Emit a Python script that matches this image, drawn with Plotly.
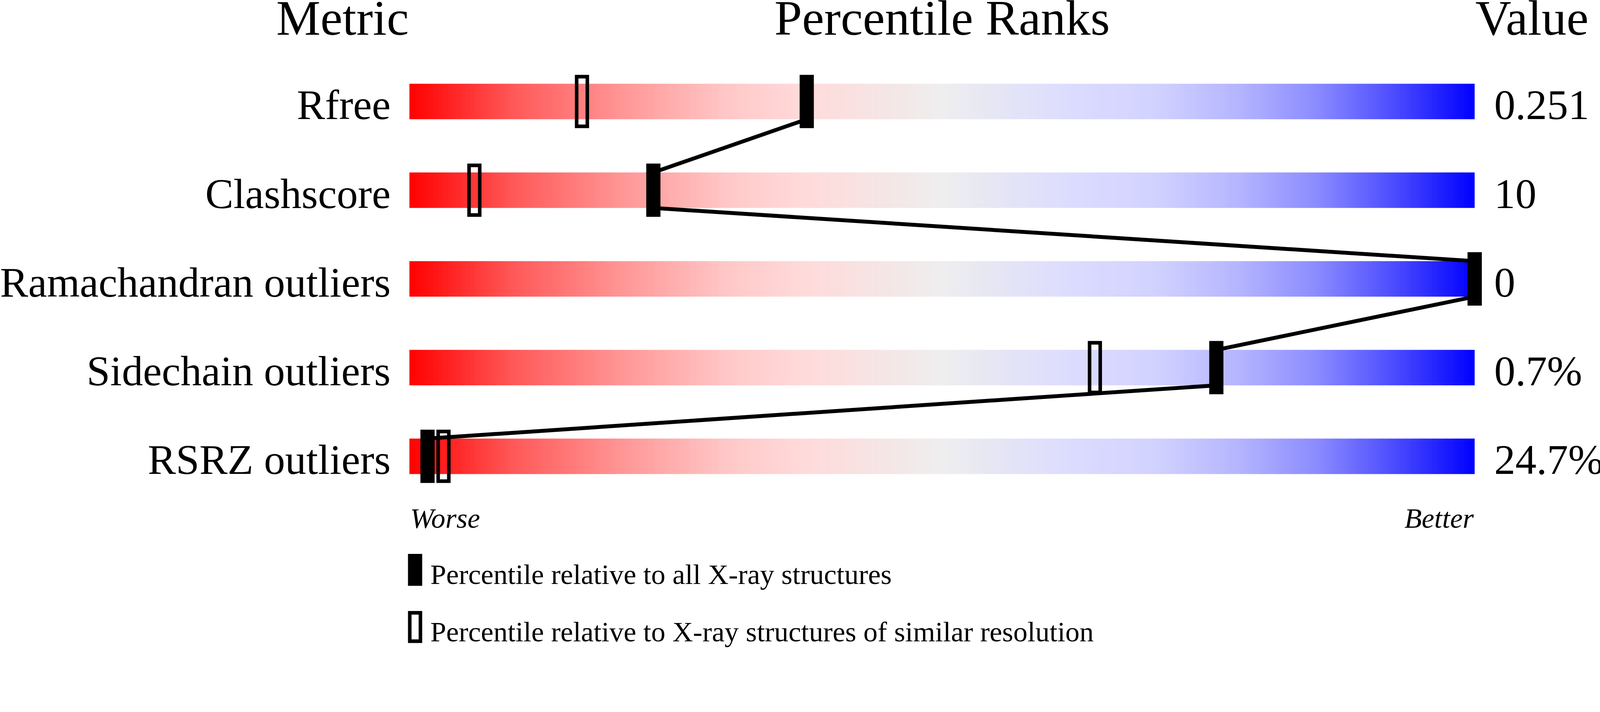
import plotly.graph_objects as go

# ---- data ----
metrics = ["Rfree", "Clashscore", "Ramachandran outliers", "Sidechain outliers", "RSRZ outliers"]
values = ["0.251", "10", "0", "0.7%", "24.7%"]
pct_all = [37.3, 22.9, 100.0, 75.75, 1.7]          # percentile vs all X-ray structures
pct_similar = [16.2, 6.1, 100.0, 64.35, 3.2]       # percentile vs similar resolution
headers = ["Metric", "Percentile Ranks", "Value"]
scale_labels = ["Worse", "Better"]
legend_labels = ["Percentile relative to all X-ray structures",
                 "Percentile relative to X-ray structures of similar resolution"]

# ---- geometry / style ----
W, H = 4506, 1824
X0, X1 = 1153, 4153          # pixel extent of the percentile bar (0..100)
PAD = 60                     # extra plot area so end markers are not clipped
TOP, BOT = 161, 1411         # pixel extent of the y domain (5 rows x 250 px)
FONT = "Liberation Serif"
BAR_HALF = 0.2

colorscale = [
    [0.00, "rgb(255,0,0)"],
    [0.10, "rgb(255,90,90)"],
    [0.20, "rgb(255,150,150)"],
    [0.30, "rgb(255,200,200)"],
    [0.37, "rgb(255,218,218)"],
    [0.45, "rgb(245,230,230)"],
    [0.50, "rgb(238,238,238)"],
    [0.55, "rgb(230,230,245)"],
    [0.62, "rgb(220,220,255)"],
    [0.70, "rgb(210,210,255)"],
    [0.78, "rgb(180,180,255)"],
    [0.85, "rgb(140,140,255)"],
    [0.92, "rgb(80,80,255)"],
    [1.00, "rgb(0,0,255)"],
]

steps = 300
x_edges = [100.0 * k / steps for k in range(steps + 1)]
z_row = [100.0 * (k + 0.5) / steps for k in range(steps)]

fig = go.Figure()

# gradient bars
for i, m in enumerate(metrics):
    fig.add_trace(go.Heatmap(
        x=x_edges, y=[i - BAR_HALF, i + BAR_HALF], z=[z_row],
        colorscale=colorscale, zmin=0, zmax=100, showscale=False,
        hoverinfo="skip",
    ))

# connecting line between 'all' markers (bottom of bar i -> top of bar i+1)
lx, ly = [], []
for i in range(len(metrics) - 1):
    lx += [pct_all[i], pct_all[i + 1], None]
    ly += [i + BAR_HALF, i + 1 - BAR_HALF, None]
fig.add_trace(go.Scatter(x=lx, y=ly, mode="lines",
                         line=dict(color="black", width=11),
                         hoverinfo="skip", showlegend=False))

shapes = []
# open markers (similar resolution) first
for i, p in enumerate(pct_similar):
    shapes.append(dict(type="rect", xref="x", yref="y",
                       xsizemode="pixel", xanchor=p, x0=-15, x1=15,
                       ysizemode="pixel", yanchor=i, y0=-70, y1=70,
                       line=dict(color="black", width=10),
                       fillcolor="rgba(0,0,0,0)", layer="above"))
# filled markers (all structures)
for i, p in enumerate(pct_all):
    shapes.append(dict(type="rect", xref="x", yref="y",
                       xsizemode="pixel", xanchor=p, x0=-20, x1=20,
                       ysizemode="pixel", yanchor=i, y0=-75, y1=75,
                       line=dict(width=0), fillcolor="black", layer="above"))


def py(px):
    return 1 - px / H


# legend markers
shapes.append(dict(type="rect", xref="x", yref="paper",
                   xsizemode="pixel", xanchor=0, x0=-4, x1=36,
                   ysizemode="pixel", yanchor=py(1606), y0=-45, y1=45,
                   line=dict(width=0), fillcolor="black"))
shapes.append(dict(type="rect", xref="x", yref="paper",
                   xsizemode="pixel", xanchor=0, x0=1, x1=31,
                   ysizemode="pixel", yanchor=py(1767), y0=-40, y1=40,
                   line=dict(color="black", width=10),
                   fillcolor="rgba(0,0,0,0)"))

ann = []
hdr_font = dict(family=FONT, size=140, color="black")
ann.append(dict(text=headers[0], xref="x", x=0, xanchor="right",
                yref="paper", y=py(50), yanchor="middle", showarrow=False, font=hdr_font))
ann.append(dict(text=headers[1], xref="x", x=50, xanchor="center",
                yref="paper", y=py(50), yanchor="middle", showarrow=False, font=hdr_font))
ann.append(dict(text=headers[2], xref="x", x=100, xanchor="left",
                yref="paper", y=py(50), yanchor="middle", showarrow=False, font=hdr_font))

lab_font = dict(family=FONT, size=119, color="black")
for i, (m, v) in enumerate(zip(metrics, values)):
    ann.append(dict(text=m, xref="x", x=0, xanchor="right", xshift=-51,
                    yref="y", y=i, yanchor="middle", yshift=-10,
                    showarrow=False, font=lab_font))
    ann.append(dict(text=v, xref="x", x=100, xanchor="left", xshift=53,
                    yref="y", y=i, yanchor="middle", yshift=-10,
                    showarrow=False, font=lab_font))

small_font = dict(family=FONT, size=80, color="black")
ann.append(dict(text="<i>%s</i>" % scale_labels[0], xref="x", x=0, xanchor="left",
                yref="paper", y=py(1460), yanchor="middle", showarrow=False, font=small_font))
ann.append(dict(text="<i>%s</i>" % scale_labels[1], xref="x", x=100, xanchor="right",
                yref="paper", y=py(1460), yanchor="middle", showarrow=False, font=small_font))

ann.append(dict(text=legend_labels[0], xref="x", x=0, xanchor="left", xshift=57,
                yref="paper", y=py(1619), yanchor="middle", showarrow=False, font=small_font))
ann.append(dict(text=legend_labels[1], xref="x", x=0, xanchor="left", xshift=57,
                yref="paper", y=py(1780), yanchor="middle", showarrow=False, font=small_font))

ppu = (X1 - X0) / 100.0
fig.update_layout(
    width=W, height=H,
    margin=dict(l=0, r=0, t=0, b=0, pad=0),
    paper_bgcolor="white", plot_bgcolor="white",
    showlegend=False,
    xaxis=dict(domain=[(X0 - PAD) / W, (X1 + PAD) / W],
               range=[-PAD / ppu, 100 + PAD / ppu], visible=False, fixedrange=True),
    yaxis=dict(domain=[1 - BOT / H, 1 - TOP / H], range=[len(metrics) - 0.5, -0.5],
               visible=False, fixedrange=True),
    shapes=shapes,
    annotations=ann,
)

# fit the fixed-size figure to the browser viewport
post = """
document.body.style.margin = '0';
document.body.style.overflow = 'hidden';
var gd = document.getElementById('{plot_id}');
var s = Math.min(window.innerWidth / %d, window.innerHeight / %d);
gd.style.transformOrigin = '0 0';
gd.style.transform = 'scale(' + s + ')';
""" % (W, H)

fig.write_html("out.html", post_script=post, config={"displayModeBar": False})
